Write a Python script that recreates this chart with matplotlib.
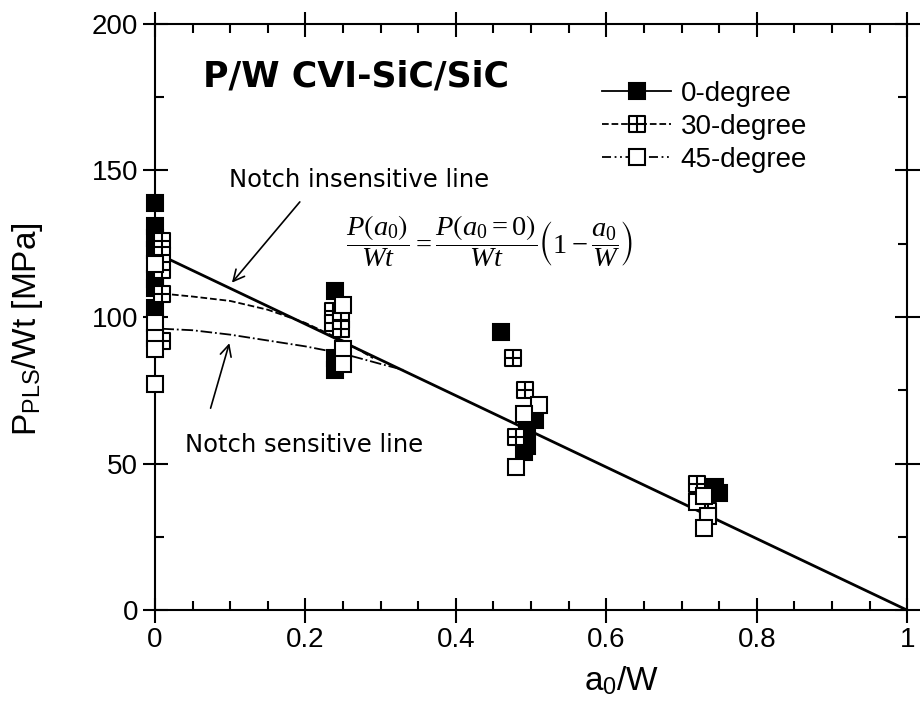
import matplotlib.pyplot as plt
import matplotlib
from matplotlib.path import Path
from matplotlib.lines import Line2D
from matplotlib.ticker import MultipleLocator

matplotlib.rcParams['font.family'] = ['Liberation Sans', 'DejaVu Sans']
matplotlib.rcParams['mathtext.fontset'] = 'custom'
matplotlib.rcParams['mathtext.rm'] = 'Liberation Serif'
matplotlib.rcParams['mathtext.it'] = 'Liberation Serif:italic'
matplotlib.rcParams['mathtext.sf'] = 'Liberation Sans'
matplotlib.rcParams['mathtext.fallback'] = 'stix'

# data
x_0deg = [0, 0, 0, 0, 0, 0, 0, 0.24, 0.24, 0.24, 0.46, 0.505, 0.495, 0.495, 0.49, 0.745, 0.75]
y_0deg = [139, 131, 127, 123, 113, 110, 103, 109, 86, 82, 95, 65, 62, 56, 54, 42, 40]

x_30deg = [0.01, 0.01, 0.01, 0.01, 0.01, 0.237, 0.237, 0.248, 0.248, 0.476, 0.492, 0.48, 0.72, 0.735]
y_30deg = [126, 121, 116, 108, 92, 102, 98, 99, 96, 86, 75, 59, 43, 34]

x_45deg = [0, 0, 0, 0, 0, 0.25, 0.25, 0.25, 0.51, 0.49, 0.48, 0.72, 0.73, 0.735, 0.73]
y_45deg = [118, 98, 93, 89, 77, 104, 89, 84, 70, 67, 49, 37, 39, 32, 28]

# notch insensitive line
ins_x = [0, 1]
ins_y = [122, 0]
# notch sensitive curves
dash_x = [0.01, 0.05, 0.10, 0.15, 0.20, 0.25, 0.29]
dash_y = [108, 107, 105.5, 102.5, 98, 92, 86]
dd_x = [0.01, 0.05, 0.10, 0.15, 0.20, 0.25, 0.30, 0.33]
dd_y = [96, 95.5, 94, 92, 90, 87.5, 84, 82]

# square with a cross inside
cross_sq = Path([(-1, -1), (1, -1), (1, 1), (-1, 1), (-1, -1),
                 (0, -1), (0, 1), (-1, 0), (1, 0)],
                [Path.MOVETO, Path.LINETO, Path.LINETO, Path.LINETO, Path.CLOSEPOLY,
                 Path.MOVETO, Path.LINETO, Path.MOVETO, Path.LINETO])

fig = plt.figure(figsize=(9.22, 7.03), dpi=100)
ax = fig.add_axes([0.168, 0.132, 0.816, 0.834])

ms = 12
mew = 1.5
ax.plot(ins_x, ins_y, '-', color='black', lw=2, zorder=2)
ax.plot(dash_x, dash_y, '--', color='black', lw=1.3, zorder=2)
ax.plot(dd_x, dd_y, '-.', color='black', lw=1.3, zorder=2)

ax.plot(x_0deg, y_0deg, 's', ms=ms, mfc='black', mec='black', mew=mew, zorder=3, clip_on=False)
ax.plot(x_30deg, y_30deg, ls='none', marker=cross_sq, ms=ms, mfc='white', mec='black', mew=mew,
        zorder=4, clip_on=False)
ax.plot(x_45deg, y_45deg, 's', ms=ms, mfc='white', mec='black', mew=mew, zorder=5, clip_on=False)

ax.set_xlim(0, 1)
ax.set_ylim(0, 200)
ax.set_xticks([0, 0.2, 0.4, 0.6, 0.8, 1])
ax.set_xticklabels(['0', '0.2', '0.4', '0.6', '0.8', '1'])
ax.xaxis.set_minor_locator(MultipleLocator(0.05))
ax.yaxis.set_major_locator(MultipleLocator(50))
ax.yaxis.set_minor_locator(MultipleLocator(25))
ax.tick_params(which='major', direction='inout', length=18, width=1.5, labelsize=20,
               top=True, right=True, pad=3)
ax.tick_params(which='minor', direction='in', length=6.5, width=1.5, top=True, right=True)
for s in ax.spines.values():
    s.set_linewidth(1.5)

ax.set_xlabel(r'a$_{\mathsf{0}}$/W', fontsize=24)
ax.xaxis.set_label_coords(0.62, -0.092)
ax.set_ylabel(r'P$_{\mathsf{PLS}}$/Wt [MPa]', fontsize=24)
ax.yaxis.set_label_coords(-0.146, 0.48)

ax.text(0.064, 178.5, 'P/W CVI-SiC/SiC', fontsize=25, fontweight='bold',
        family=['DejaVu Sans'], va='baseline')
ax.text(0.099, 144.5, 'Notch insensitive line', fontsize=17.5, family=['DejaVu Sans'],
        va='baseline')
ax.text(0.04, 54, 'Notch sensitive line', fontsize=17.5, family=['DejaVu Sans'],
        va='baseline')
ax.text(0.445, 126, r'$\dfrac{P\left(a_0\right)}{Wt}=\dfrac{P\left(a_0=0\right)}{Wt}\left(1-\dfrac{a_0}{W}\right)$',
        fontsize=20.5, ha='center', va='center')

ax.annotate('', xy=(0.10, 111), xytext=(0.195, 140),
            arrowprops=dict(arrowstyle='->', color='black', lw=1.2, mutation_scale=20))
ax.annotate('', xy=(0.10, 92), xytext=(0.073, 68),
            arrowprops=dict(arrowstyle='->', color='black', lw=1.2, mutation_scale=20))

handles = [
    Line2D([], [], color='black', ls='-', lw=1.3, marker='s', ms=ms, mfc='black', mec='black', mew=mew),
    Line2D([], [], color='black', ls='--', lw=1.3, marker=cross_sq, ms=ms, mfc='white', mec='black', mew=mew),
    Line2D([], [], color='black', ls=(0, (5, 2, 1, 2, 1, 2)), lw=1.3, marker='s', ms=ms, mfc='white', mec='black', mew=mew),
]
ax.legend(handles, ['0-degree', '30-degree', '45-degree'], loc='upper left',
          bbox_to_anchor=(0.594, 0.903), frameon=False, fontsize=20, numpoints=1,
          handlelength=2.5, handletextpad=0.33, labelspacing=0.25, borderpad=0,
          borderaxespad=0)

fig.savefig('out.png', dpi=100)
